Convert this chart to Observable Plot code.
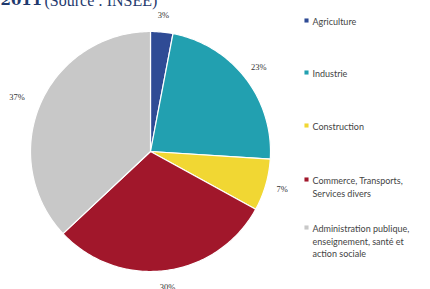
<!DOCTYPE html>
<html><head><meta charset="utf-8">
<script src="https://cdn.jsdelivr.net/npm/d3@7"></script>
<script src="https://cdn.jsdelivr.net/npm/@observablehq/plot@0.6"></script>
<style>
body{margin:0;background:#fff;}
#chart svg{display:block;}
</style>
</head><body><div id="chart"></div>
<script>
const categories = ["Agriculture","Industrie","Construction","Commerce, Transports,\nServices divers","Administration publique,\nenseignement, santé et\naction sociale"];
const values = [3,23,7,30,37];
const valueLabels = ["3%","23%","7%","30%","37%"];
const colors = ["#2f4b95","#22a0b0","#f1d733","#a1172b","#c8c8c8"];
const legendRowY = [20,72,125,179,227];
const titleYear = "2011";
const titleSource = "(Source : INSEE)";

const W = 430, H = 289;
const cx = 150, cy = 151, R = 120, labelR = 137;

const total = d3.sum(values);
const slices = [];
let acc = 0;
values.forEach((v,i)=>{
  const a0 = acc/total*2*Math.PI; acc += v; const a1 = acc/total*2*Math.PI;
  slices.push({cat:categories[i], v, a0, a1, label:valueLabels[i], i});
});
const pts = [];
for (const s of slices){
  pts.push({cat:s.cat, x:cx, y:cy});
  const n = Math.max(2, Math.ceil((s.a1-s.a0)/(Math.PI/180)));
  for (let k=0;k<=n;k++){
    const a = s.a0 + (s.a1-s.a0)*k/n;
    pts.push({cat:s.cat, x:cx+R*Math.sin(a), y:cy-R*Math.cos(a)});
  }
}
const labs = slices.map(s=>{
  const m=(s.a0+s.a1)/2;
  return {text:s.label, x:cx+labelR*Math.sin(m), y:cy-labelR*Math.cos(m), anchor: Math.sin(m) < -0.3 ? "end" : "middle"};
});
const legend = categories.map((c,i)=>({cat:c, y:legendRowY[i]}));

const chart = Plot.plot({
  width: W, height: H,
  margin: 0,
  x: {type:"identity", axis:null},
  y: {type:"identity", axis:null},
  color: {domain: categories, range: colors},
  style: {background:"#fff"},
  marks: [
    Plot.line(pts, {x:"x", y:"y", z:"cat", fill:"cat", stroke:"white", strokeWidth:1.2, curve:"linear-closed"}),
    Plot.text(labs.filter(d=>d.anchor==="middle"), {x:"x", y:"y", text:"text", textAnchor:"middle", fontSize:8.5, fill:"#333", fontFamily:"Liberation Serif"}),
    Plot.text(labs.filter(d=>d.anchor==="end"), {x:"x", y:"y", text:"text", textAnchor:"end", fontSize:8.5, fill:"#333", fontFamily:"Liberation Serif"}),
    Plot.dot(legend, {x:306, y:"y", fill:"cat", symbol:"square", r:2.3}),
    Plot.text(legend, {x:312, y: d=>d.y-4.5, text:"cat", textAnchor:"start", lineAnchor:"top", lineHeight:1.4, fontSize:9, fill:"#444", fontFamily:"Lato"}),
    Plot.text([titleYear], {x:0, y:0, text:d=>d, textAnchor:"start", fontSize:15, fontWeight:"bold", fill:"#1f3a6e", fontFamily:"DejaVu Serif"}),
    Plot.text([titleSource], {x:44, y:0, text:d=>d, textAnchor:"start", fontSize:16, fill:"#1f3a6e", fontFamily:"Liberation Serif"})
  ]
});
document.getElementById("chart").appendChild(chart);
</script>
</body></html>
